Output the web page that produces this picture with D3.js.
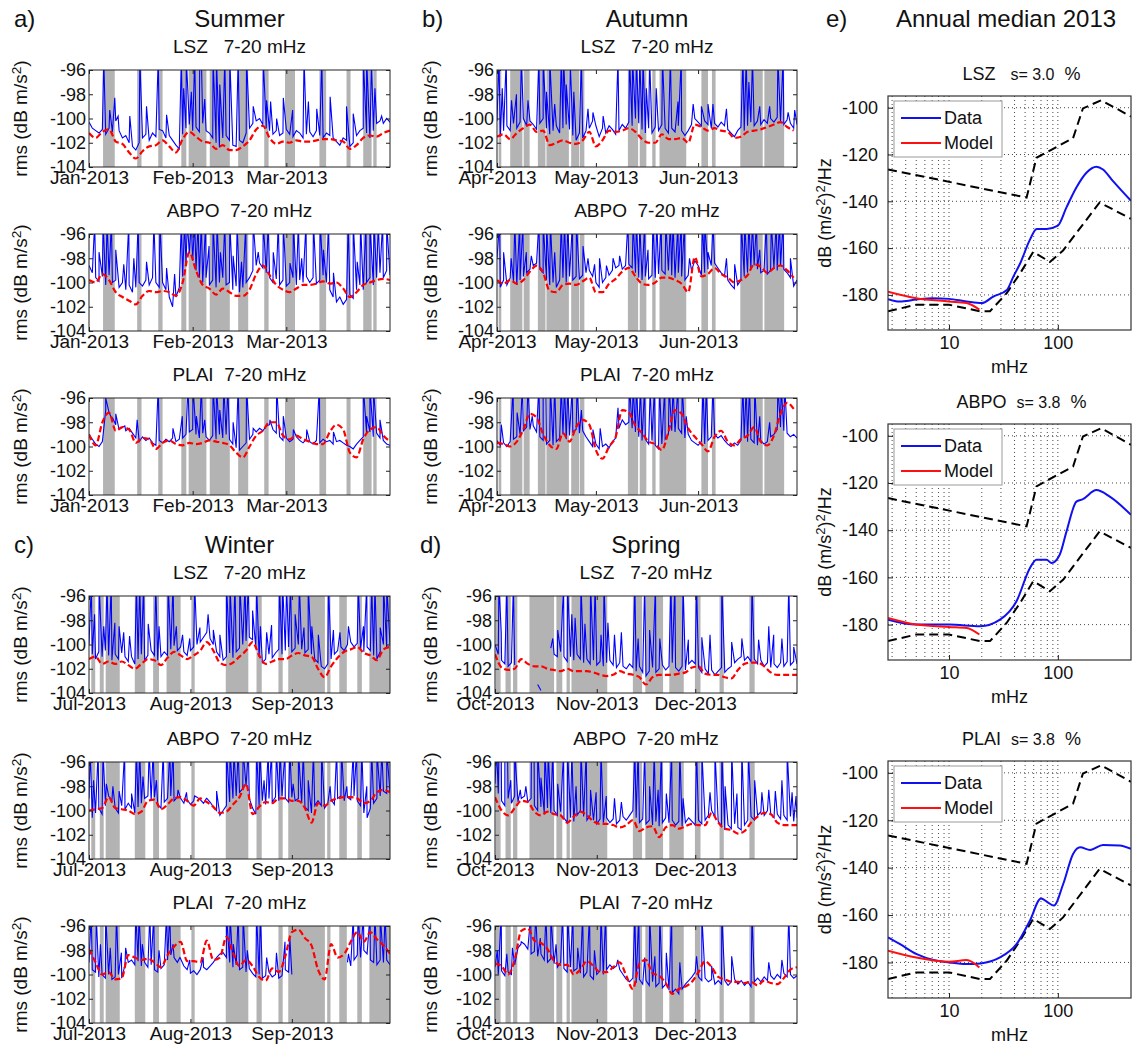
<!DOCTYPE html>
<html>
<head>
<meta charset="utf-8">
<script src="https://cdn.jsdelivr.net/npm/d3@7"></script>
<style>
  body { margin: 0; background: #fff; }
  svg { font-family: "Liberation Sans", Arial, Helvetica, sans-serif; }
</style>
</head>
<body>
<svg id="chart" width="1133" height="1053"></svg>
<script>
// ---------- data: seasonal 7-20 mHz rms (dB m/s^2) ----------
const seasonNames = ["Summer", "Autumn", "Winter", "Spring"];
const seasonLetters = ["a)", "b)", "c)", "d)"];
const seasonStart = ["2013-01-01", "2013-04-01", "2013-07-01", "2013-10-01"];
const seasonEnd = ["2013-04-01", "2013-07-01", "2013-10-01", "2014-01-01"];
const stationTitles = ["LSZ   7-20 mHz", "ABPO  7-20 mHz", "PLAI  7-20 mHz"];
const rmsTicks = [-104, -102, -100, -98, -96];

// grey bands (day offsets from season start)
const bandsSummer = [[4.2,7.7],[14.4,15.7],[20.7,22.0],[27.6,29.1],[29.8,35.1],[36.1,42.1],[44.6,47.6],[52.4,53.7],[58.6,61.6],[68.9,70.9],[77.0,78.2],[82.0,84.5],[85.0,86.0]];
const bandsAutumn = [[0.5,1.3],[4.0,7.7],[8.1,9.9],[12.4,14.7],[15.0,21.8],[22.5,24.9],[25.1,26.5],[39.7,42.8],[43.3,45.3],[47.1,48.1],[49.3,57.4],[62.0,64.0],[65.2,66.3],[73.8,80.6],[81.1,87.1]];
const bandsWinter = [[0.7,1.9],[3.3,4.5],[5.1,9.4],[14.0,17.2],[19.6,21.4],[23.7,28.0],[31.3,32.3],[41.8,48.7],[51.2,52.8],[57.9,59.2],[60.9,72.1],[72.8,73.8],[76.5,78.8],[82.0,83.4],[85.7,92.0]];
const bandsSpring = [[0.2,1.7],[3.2,4.8],[5.5,6.8],[10.5,18.0],[18.7,20.5],[21.8,22.8],[23.3,34.2],[42.0,44.8],[45.8,51.2],[53.1,57.5],[60.9,62.6],[68.4,69.7],[77.5,79.1]];

// blue: daily data, spikes: [day, peak], red: model every 2 days
const blueSumLSZ = [
  -100.3,-100.8,-101.0,-101.2,-100.9,-101.3,-100.8,-101.1,-100.2,-101.0,
  -101.6,-101.4,-102.0,-102.3,-102.6,-102.0,-101.6,-101.3,-101.8,-101.2,
  -101.5,-100.9,-101.0,-101.6,-101.4,-101.8,-102.2,-102.5,-101.3,-100.8,
  -100.5,-101.0,-100.7,-101.1,-100.4,-101.0,-101.2,-101.6,-102.0,-102.4,
  -101.6,-101.4,-101.8,-102.2,-102.3,-101.8,-102.0,-101.2,-100.8,-100.4,
  -100.2,-100.0,-100.5,-100.8,-101.0,-101.3,-101.0,-101.4,-101.2,-100.9,
  -101.3,-101.5,-101.0,-101.2,-101.6,-101.3,-101.1,-101.5,-101.0,-101.4,
  -101.6,-101.2,-101.4,-101.6,-101.9,-102.2,-101.6,-101.8,-102.3,-102.0,
  -101.4,-101.0,-100.8,-101.2,-101.6,-101.0,-100.4,-100.2,-100.4,-100.0,-100.3];
const spikesSumLSZ = [[4.4,-95],[6.2,-99.3],[7.7,-98.3],[8.7,-99.8],[12.2,-99.8],[15.2,-95],[17.2,-99],[20.7,-95],[23.2,-99.7],[27.6,-95],[28.3,-97.5],[29.1,-95],[30.6,-97.8],[31.6,-95],[33.1,-95],[33.6,-95],[34.6,-98.4],[37.1,-95],[38.1,-95],[39.1,-97.2],[40.6,-95],[42.1,-95],[44.6,-95],[47.1,-95],[49.1,-99],[52.1,-95],[53.1,-98.5],[54.3,-98.6],[56.1,-100],[58.1,-98.3],[60.9,-99.3],[64.3,-95],[65.6,-98.6],[68.1,-99.2],[69.6,-95],[72.1,-98.2],[77.0,-99],[79.0,-99.6],[82.0,-95],[83.0,-95],[84.5,-95],[85.5,-97.5],[87.5,-99.8]];
const redSumLSZ = [
  -101.2,-101.6,-101.1,-100.9,-101.9,-102.1,-102.8,-103.3,-102.7,-102.3,
  -102.2,-101.8,-102.3,-102.8,-101.7,-101.1,-101.5,-101.9,-102.0,-102.5,
  -102.2,-102.6,-102.6,-102.3,-101.8,-100.9,-100.6,-101.6,-102.1,-101.9,
  -102.0,-101.8,-101.9,-101.9,-101.8,-101.7,-101.7,-101.8,-101.9,-102.5,
  -102.2,-101.6,-101.4,-101.5,-101.2,-101.0];

const blueSumABPO = [
  -98.6,-99.2,-99.6,-99.9,-99.5,-100.2,-99.4,-100.0,-99.8,-100.4,
  -100.0,-100.6,-100.2,-100.8,-100.4,-100.0,-100.3,-99.8,-100.2,-99.6,
  -100.0,-100.4,-100.0,-100.6,-101.2,-102.0,-101.2,-100.4,-99.5,-98.6,
  -97.6,-98.2,-99.0,-99.6,-100.0,-99.6,-100.2,-99.8,-100.4,-100.0,
  -99.6,-100.2,-100.0,-100.6,-100.3,-100.8,-100.4,-100.0,-99.6,-99.0,
  -98.6,-98.4,-98.8,-99.2,-99.6,-100.0,-99.7,-100.2,-99.8,-100.3,
  -100.0,-99.6,-100.2,-99.8,-100.0,-99.5,-100.0,-99.6,-100.1,-99.8,
  -99.4,-100.0,-100.6,-101.2,-101.6,-101.2,-101.8,-101.4,-101.0,-101.3,
  -100.6,-100.2,-100.6,-100.0,-99.6,-100.2,-99.6,-99.2,-99.6,-99.0,-99.4];
const spikesSumABPO = [[1.7,-95],[3.0,-97.5],[4.2,-95],[5.4,-95],[6.7,-95],[8.0,-97.3],[10.4,-98.5],[11.9,-95],[13.4,-98],[14.7,-95],[17.2,-98.3],[19.4,-95],[21.2,-95],[23.2,-98.8],[25.6,-99.3],[27.6,-95],[28.6,-95],[29.4,-95],[30.6,-95],[31.6,-95],[32.6,-95],[33.6,-95],[34.9,-95],[35.9,-97],[37.1,-95],[38.3,-95],[39.3,-97.5],[40.6,-95],[42.1,-95],[43.1,-97.8],[44.3,-95],[45.6,-98.3],[46.9,-95],[49.1,-95],[50.6,-97.5],[52.1,-95],[53.6,-95],[55.1,-97.5],[56.6,-95],[58.1,-95],[60.1,-98.4],[61.1,-95],[62.6,-95],[63.6,-98],[64.9,-95],[67.1,-95],[69.1,-95],[70.1,-97.3],[71.6,-95],[73.1,-99.2],[77.5,-95],[79.0,-95],[80.2,-98.3],[81.2,-95],[82.8,-95],[84.0,-95],[85.2,-95],[86.5,-95],[87.8,-95],[89.0,-95]];
const redSumABPO = [
  -99.8,-100.0,-99.3,-99.8,-100.8,-101.2,-101.5,-101.8,-101.1,-100.7,
  -100.8,-100.7,-100.8,-101.1,-100.0,-97.5,-99.0,-100.2,-100.5,-101.0,
  -100.5,-100.8,-101.1,-101.1,-100.6,-99.3,-98.6,-99.4,-100.2,-100.6,
  -100.8,-100.5,-100.2,-100.2,-100.1,-99.9,-100.1,-100.0,-100.5,-101.2,
  -100.8,-100.2,-100.0,-99.8,-99.7,-99.8];

const blueSumPLAI = [
  -99.0,-99.4,-99.8,-100.0,-99.6,-97.0,-97.2,-97.8,-98.2,-98.6,
  -98.4,-98.7,-98.5,-98.9,-99.3,-99.6,-99.2,-99.5,-99.3,-99.7,
  -99.9,-99.5,-99.7,-99.4,-99.6,-99.3,-99.6,-99.4,-99.3,-99.0,
  -98.8,-98.6,-99.0,-99.3,-98.9,-99.2,-99.5,-99.1,-99.4,-99.0,
  -99.3,-99.0,-99.4,-99.8,-100.1,-100.3,-100.0,-99.7,-99.4,-99.0,
  -98.8,-98.5,-98.7,-98.3,-98.2,-98.6,-98.9,-99.2,-99.5,-99.3,
  -99.6,-99.4,-99.2,-99.5,-99.7,-99.4,-99.6,-99.8,-99.5,-99.7,
  -99.4,-99.6,-99.5,-99.8,-99.6,-99.5,-99.7,-99.9,-100.0,-100.2,
  -99.8,-99.5,-99.2,-98.9,-98.8,-99.2,-98.9,-99.3,-99.5,-99.8,-99.9];
const spikesSumPLAI = [[5.0,-96],[7.0,-97.6],[8.0,-97.3],[10.7,-98.3],[14.4,-97.8],[20.7,-95],[25.1,-98.5],[27.9,-97.5],[29.6,-95],[31.1,-95],[32.1,-97.5],[33.6,-95],[34.6,-97.8],[37.1,-95],[38.1,-95],[39.1,-97],[40.3,-95],[41.5,-95],[43.1,-98],[44.6,-95],[47.1,-95],[49.1,-98.5],[54.1,-97.8],[56.1,-95],[58.1,-97.5],[61.1,-98.6],[65.1,-98.6],[68.9,-95],[73.1,-98.8],[82.0,-95],[83.0,-97.5],[84.0,-95],[85.0,-95],[87.0,-97.8]];
const redSumPLAI = [
  -99.0,-99.9,-98.0,-97.2,-98.7,-98.4,-98.6,-99.7,-99.3,-99.4,
  -100.2,-99.7,-99.5,-99.8,-99.9,-99.7,-99.8,-99.7,-99.5,-99.6,
  -99.7,-99.9,-100.5,-100.9,-100.0,-99.1,-98.7,-98.0,-98.0,-99.1,
  -99.4,-99.1,-99.4,-99.6,-99.8,-99.8,-98.8,-98.2,-98.6,-100.5,
  -100.9,-99.4,-98.6,-98.4,-99.1,-99.6];

const blueAutLSZ = [
  -100.2,-101.5,-101.0,-100.6,-101.0,-100.4,-100.8,-100.3,-100.0,-100.6,
  -100.2,-100.5,-100.9,-100.4,-100.0,-100.8,-101.3,-101.0,-100.6,-101.2,
  -100.8,-100.5,-100.9,-101.4,-101.8,-101.2,-101.6,-101.0,-100.8,-100.2,
  -100.6,-101.5,-100.8,-101.2,-100.6,-100.9,-101.3,-101.0,-100.5,-100.8,
  -100.3,-100.6,-100.0,-100.4,-100.9,-101.2,-100.8,-101.2,-100.7,-101.0,
  -100.5,-100.8,-101.2,-100.8,-101.1,-100.6,-101.0,-101.4,-101.0,-100.5,
  -100.0,-100.3,-100.6,-100.2,-100.5,-100.8,-100.4,-100.7,-100.3,-100.6,
  -100.9,-101.2,-101.5,-101.0,-100.7,-101.0,-100.6,-100.3,-100.6,-100.2,
  -100.5,-100.1,-100.4,-100.0,-100.3,-99.9,-100.2,-100.5,-100.1,-100.4,
  -100.8,-100.5];
const spikesAutLSZ = [[0.6,-95],[1.6,-97.5],[2.8,-95],[4.4,-98.5],[5.9,-98],[7.4,-95],[9.4,-98.5],[12.7,-95],[14.0,-95],[15.0,-97.8],[16.0,-95],[17.5,-98.8],[19.5,-95],[20.2,-95],[21.0,-97.2],[22.2,-95],[23.3,-97.8],[25.6,-95],[27.6,-99.2],[29.1,-99.5],[32.2,-99.8],[36.7,-95],[40.2,-95],[41.1,-95],[42.3,-95],[43.3,-95],[44.3,-95],[45.3,-97.5],[46.3,-95],[48.3,-97.5],[50.2,-95],[52.6,-95],[54.9,-98.6],[55.9,-95],[59.5,-98.8],[62.0,-99],[64.0,-98.8],[65.5,-98.8],[69.6,-99.2],[74.6,-95],[75.6,-95],[76.4,-97],[77.5,-95],[79.7,-99],[82.7,-99],[85.2,-95],[86.8,-95],[88.3,-99.5],[90.3,-99.3]];
const redAutLSZ = [
  -101.5,-101.3,-101.7,-101.2,-100.8,-100.5,-101.1,-101.0,-102.2,-102.0,
  -101.8,-102.0,-102.1,-101.8,-101.1,-102.3,-101.8,-101.0,-101.1,-101.0,
  -100.8,-101.1,-101.7,-102.0,-102.0,-101.3,-101.7,-101.7,-101.6,-102.0,
  -100.5,-100.7,-101.0,-100.8,-101.0,-101.1,-101.6,-101.5,-101.1,-101.0,
  -100.9,-100.7,-100.5,-100.3,-100.7,-101.0];

const blueAutABPO = [
  -98.0,-100.4,-99.8,-100.2,-99.6,-99.9,-100.2,-99.8,-99.5,-99.2,
  -98.9,-98.6,-98.4,-98.9,-99.2,-99.8,-100.2,-100.0,-100.4,-99.8,
  -99.6,-100.0,-99.5,-99.8,-99.5,-99.7,-99.4,-99.2,-99.0,-99.5,
  -100.0,-100.4,-100.0,-99.6,-99.4,-99.0,-98.8,-98.6,-98.9,-98.6,
  -98.5,-98.8,-99.2,-99.6,-99.8,-99.5,-99.7,-99.4,-99.6,-99.3,
  -99.0,-99.3,-99.0,-99.4,-99.6,-99.2,-99.5,-99.8,-99.4,-99.0,
  -98.2,-98.6,-99.4,-99.2,-98.9,-98.6,-98.4,-98.8,-99.2,-99.5,
  -99.8,-100.2,-100.5,-100.2,-99.8,-99.5,-99.2,-98.8,-98.6,-98.9,
  -99.2,-99.0,-99.3,-99.0,-98.8,-99.0,-98.6,-98.9,-99.2,-99.6,
  -100.3,-99.8];
const spikesAutABPO = [[0.8,-95],[2.0,-97.5],[4.3,-98],[5.4,-95],[6.9,-95],[7.9,-95],[8.9,-97.5],[10.4,-97.8],[12.7,-95],[14.0,-95],[15.0,-95],[16.2,-95],[17.5,-97.5],[19.5,-95],[20.5,-95],[21.5,-95],[22.9,-95],[24.1,-95],[26.1,-97],[27.6,-98],[29.6,-98.5],[31.1,-98],[33.2,-98.6],[35.2,-98],[37.2,-97.8],[39.7,-95],[41.3,-95],[42.3,-95],[43.3,-95],[44.8,-95],[45.8,-97.3],[47.3,-95],[48.5,-95],[49.8,-95],[51.2,-95],[52.6,-95],[53.4,-95],[54.9,-95],[55.9,-95],[56.9,-95],[58.4,-98],[62.3,-95],[63.0,-95],[64.0,-97.5],[65.5,-95],[69.6,-98],[72.1,-98.5],[74.1,-95],[75.1,-95],[76.4,-95],[77.5,-95],[78.7,-95],[79.7,-97.3],[81.7,-95],[83.2,-95],[84.7,-95],[85.7,-95],[86.8,-95],[89.0,-98]];
const redAutABPO = [
  -99.8,-100.1,-99.8,-100.1,-99.8,-99.1,-98.6,-99.2,-100.7,-100.8,
  -100.2,-100.1,-100.2,-99.9,-99.6,-100.8,-100.8,-100.1,-99.7,-99.1,
  -98.8,-99.5,-100.1,-100.2,-100.0,-99.6,-99.6,-99.8,-100.1,-100.8,
  -97.9,-99.5,-99.3,-98.8,-99.3,-99.6,-100.0,-99.8,-99.4,-98.5,
  -98.7,-99.2,-98.8,-98.6,-99.0,-99.6];

const blueAutPLAI = [
  -99.5,-99.9,-99.7,-100.0,-99.6,-99.4,-99.2,-99.0,-98.7,-98.4,
  -98.6,-98.3,-98.8,-99.2,-99.5,-99.8,-99.5,-99.9,-99.6,-99.3,
  -99.0,-99.4,-99.1,-98.8,-98.6,-98.9,-98.7,-99.2,-99.6,-100.0,
  -99.8,-100.2,-100.0,-99.8,-100.1,-99.6,-99.3,-98.5,-97.8,-98.2,
  -98.0,-98.5,-98.8,-99.2,-99.5,-99.4,-99.8,-99.5,-99.9,-100.2,
  -99.8,-99.4,-99.0,-98.7,-98.8,-98.5,-98.9,-99.3,-99.0,-99.5,
  -99.7,-99.9,-99.6,-99.8,-99.5,-99.2,-99.0,-99.3,-99.1,-99.5,
  -99.8,-100.0,-99.7,-99.9,-99.5,-99.3,-99.6,-99.4,-99.7,-99.9,
  -99.5,-99.8,-99.6,-99.2,-99.0,-98.6,-98.4,-98.7,-98.9,-99.2,
  -99.0,-99.3];
const spikesAutPLAI = [[1.3,-98.2],[4.9,-95],[6.1,-97.2],[7.7,-95],[9.4,-95],[10.7,-97.5],[12.7,-95],[14.0,-95],[14.8,-95],[16.2,-95],[17.5,-95],[19.5,-95],[20.5,-95],[21.5,-95],[22.8,-95],[24.3,-95],[25.6,-97],[29.1,-98.6],[31.3,-98.5],[36.7,-96.8],[40.2,-95],[41.3,-95],[42.3,-95],[43.5,-95],[44.8,-95],[46.5,-95],[47.8,-95],[49.3,-95],[50.9,-95],[52.2,-95],[53.4,-95],[54.9,-95],[56.2,-95],[57.4,-97.5],[62.5,-95],[63.5,-95],[65.5,-95],[74.6,-95],[75.6,-95],[76.6,-95],[78.2,-95],[79.7,-97.5],[82.7,-98],[85.2,-95],[86.2,-95],[87.3,-95]];
const redAutPLAI = [
  -99.7,-99.8,-100.0,-99.6,-98.6,-97.3,-97.6,-99.0,-99.9,-100.2,
  -98.9,-99.6,-98.4,-97.8,-98.2,-100.3,-101.0,-100.0,-99.2,-97.0,
  -97.2,-98.3,-98.9,-99.6,-99.8,-100.3,-98.8,-97.0,-97.3,-98.5,
  -99.2,-99.8,-100.4,-99.2,-98.7,-99.6,-99.9,-99.4,-99.1,-98.4,
  -99.6,-99.9,-99.1,-97.3,-96.4,-96.9];

const blueWinLSZ = [
  -100.0,-100.8,-101.2,-100.6,-101.0,-100.5,-100.9,-101.3,-100.8,-101.2,
  -100.7,-101.0,-101.4,-101.0,-101.6,-101.2,-100.8,-101.3,-100.9,-100.5,
  -100.9,-101.3,-101.0,-100.6,-100.9,-100.4,-100.1,-100.5,-100.2,-100.6,
  -100.9,-100.5,-100.2,-100.0,-99.8,-99.4,-99.0,-99.5,-100.0,-100.6,
  -101.0,-101.3,-101.0,-100.7,-101.1,-100.6,-100.3,-100.0,-99.7,-99.4,
  -99.6,-100.3,-101.0,-101.5,-101.2,-100.8,-101.1,-100.7,-100.4,-100.8,
  -100.5,-100.2,-100.6,-100.3,-100.0,-100.4,-100.7,-100.4,-100.8,-101.2,
  -101.5,-101.8,-102.0,-101.6,-101.2,-100.8,-100.5,-100.2,-100.5,-100.0,
  -99.8,-100.2,-99.9,-100.3,-100.6,-100.2,-100.5,-100.9,-101.2,-100.6,
  -100.0,-100.3,-100.0];
const spikesWinLSZ = [[0.7,-95],[1.7,-97.5],[3.1,-95],[4.5,-98.5],[5.5,-95],[6.8,-95],[7.9,-98.2],[9.2,-98.5],[10.6,-99],[12.4,-99.3],[14.5,-95],[15.5,-95],[16.7,-95],[18.1,-98.3],[20.4,-95],[21.4,-98.5],[24.2,-95],[25.7,-95],[26.7,-98.5],[28.6,-99.2],[30.8,-99.5],[32.3,-95],[33.9,-98.6],[36.4,-97.5],[38.0,-98.8],[40.0,-99.2],[42.0,-95],[43.1,-95],[44.6,-95],[46.1,-95],[47.7,-95],[48.7,-95],[50.0,-97.2],[51.2,-95],[52.4,-98.5],[54.3,-99],[55.8,-98.4],[58.2,-95],[59.2,-95],[60.4,-95],[61.6,-95],[63.0,-97.5],[64.3,-95],[65.7,-98.6],[67.0,-95],[68.1,-98.5],[70.1,-99.2],[73.2,-95],[74.7,-98.8],[76.7,-99],[79.3,-98.5],[82.3,-95],[83.9,-98.5],[84.9,-95],[86.4,-95],[87.4,-95],[89.0,-98.6],[90.0,-95],[91.0,-95]];
const redWinLSZ = [
  -101.2,-101.0,-101.6,-101.4,-101.6,-101.4,-101.7,-102.0,-101.6,-101.2,
  -101.3,-101.7,-101.1,-100.6,-100.9,-101.2,-100.9,-100.5,-99.8,-100.5,
  -101.5,-101.7,-101.5,-101.0,-100.5,-99.8,-100.9,-101.6,-101.4,-101.2,
  -101.2,-100.9,-100.7,-100.9,-101.0,-102.0,-102.7,-101.8,-101.1,-100.6,
  -100.4,-100.2,-100.7,-100.9,-101.3,-100.4,-100.2];

const blueWinABPO = [
  -99.0,-100.6,-100.2,-99.8,-100.3,-99.6,-98.8,-99.2,-99.8,-100.2,
  -99.6,-99.9,-99.4,-99.8,-100.2,-99.7,-99.4,-99.0,-98.8,-99.2,
  -98.9,-99.5,-99.8,-99.3,-99.0,-98.8,-99.2,-98.9,-99.0,-99.4,
  -99.1,-99.5,-99.2,-98.9,-99.1,-99.4,-99.0,-99.3,-99.7,-100.0,
  -100.4,-100.0,-99.6,-99.3,-99.0,-98.8,-98.5,-98.2,-98.0,-99.0,
  -99.8,-100.3,-99.6,-99.2,-99.5,-99.0,-99.3,-98.9,-99.2,-98.8,
  -99.0,-99.3,-98.9,-99.2,-99.0,-99.4,-99.7,-100.0,-100.2,-99.6,
  -99.2,-99.6,-99.8,-99.4,-99.1,-99.5,-99.0,-98.8,-99.2,-98.9,
  -99.1,-98.8,-99.2,-99.6,-100.2,-100.6,-99.8,-99.4,-99.0,-98.8,
  -98.4,-98.6,-98.5];
const spikesWinABPO = [[0.4,-95],[1.4,-97.5],[2.8,-95],[4.3,-95],[5.3,-97.8],[7.3,-98],[9.2,-98.4],[10.9,-95],[13.0,-98.6],[14.5,-95],[15.5,-95],[16.5,-97.2],[18.4,-95],[19.6,-95],[20.6,-97.5],[22.7,-95],[24.7,-95],[25.7,-95],[27.2,-98.3],[29.8,-98.5],[32.3,-98.8],[35.9,-99],[39.0,-98.4],[42.0,-95],[43.1,-95],[44.3,-95],[45.6,-95],[47.1,-95],[48.7,-95],[51.2,-95],[52.2,-95],[53.5,-97.5],[54.8,-95],[55.8,-95],[57.3,-95],[58.4,-95],[59.9,-95],[61.4,-95],[62.4,-97.8],[64.0,-95],[65.5,-95],[67.0,-97.5],[68.6,-95],[71.1,-95],[73.7,-98],[75.7,-95],[77.2,-95],[78.8,-98],[80.8,-95],[81.8,-95],[83.4,-95],[84.9,-98],[86.4,-95],[88.0,-95],[89.5,-95],[91.0,-95]];
const redWinABPO = [
  -100.0,-99.9,-99.8,-98.9,-99.8,-99.9,-100.0,-100.3,-100.1,-99.2,
  -99.1,-99.9,-99.5,-99.0,-98.9,-99.2,-99.6,-99.0,-99.3,-99.7,
  -100.2,-100.1,-99.5,-98.9,-97.8,-100.3,-99.7,-99.3,-99.4,-99.0,
  -99.0,-99.2,-99.2,-99.8,-101.0,-99.4,-99.6,-99.2,-99.0,-98.9,
  -98.9,-99.0,-99.4,-99.2,-98.5,-98.3,-98.5];

const blueWinPLAI = [
  -99.0,-99.6,-99.8,-100.2,-100.0,-100.3,-100.0,-100.4,-100.2,-100.0,
  -100.3,-99.2,-99.0,-98.8,-99.2,-98.9,-99.3,-99.0,-99.4,-99.2,
  -99.6,-99.8,-99.5,-99.2,-98.8,-98.4,-98.6,-99.0,-98.7,-99.3,
  -99.6,-99.9,-99.7,-100.0,-99.6,-99.4,-99.6,-99.3,-99.0,-98.6,
  -98.3,-98.2,-98.6,-99.0,-99.4,-99.2,-99.6,-99.4,-99.8,-99.5,
  -99.9,-100.2,-100.0,-100.3,-100.1,-99.8,-100.2,-100.0,-100.3,-100.1,
  -99.6,-99.8,-100.0,null,null,null,null,null,null,null,
  null,null,null,null,null,null,null,null,null,-99.0,
  -99.3,-98.8,-98.4,-98.6,-98.0,-98.3,-98.8,-99.0,-99.2,-98.8,
  -99.0,-98.8,-99.2];
const spikesWinPLAI = [[0.7,-95],[2.2,-95],[3.5,-97.5],[5.1,-95],[6.5,-97.8],[8.4,-95],[9.9,-98.2],[11.2,-97.8],[14.3,-95],[15.3,-95],[16.3,-97.5],[18.6,-95],[19.8,-95],[21.4,-98],[23.7,-95],[24.7,-95],[25.7,-97.5],[27.8,-98.6],[30.8,-98.8],[34.9,-98.6],[39.0,-98.6],[42.0,-95],[43.1,-95],[44.1,-97.5],[45.6,-95],[47.1,-95],[48.4,-98],[51.2,-95],[52.4,-95],[54.3,-98.6],[57.3,-98.2],[59.9,-97.3],[61.4,-97],[79.3,-98.3],[80.8,-95],[82.3,-95],[83.9,-95],[85.9,-95],[87.4,-95],[89.0,-95],[90.5,-95]];
const redWinPLAI = [
  -97.9,-99.0,-100.0,-99.8,-100.4,-100.3,-98.4,-98.6,-98.8,-98.7,
  -99.0,-99.4,-98.4,-97.7,-97.3,-98.9,-98.9,-99.0,-97.2,-98.8,
  -98.6,-96.9,-98.2,-99.3,-98.8,-99.3,-100.2,-100.5,-99.5,-99.8,
  -98.5,-96.5,-96.3,-97.0,-97.6,-99.6,-100.4,-97.5,-98.6,-98.3,
  -97.3,-96.5,-97.3,-96.5,-97.1,-97.6,-98.3];

const blueSprLSZ = [
  -100.0,-100.8,-101.3,-101.6,-101.8,-101.5,-101.7,null,null,null,
  null,null,null,-103.3,-103.8,null,null,-100.3,-100.8,-101.0,
  -100.6,-101.0,-101.4,-101.0,-101.3,-100.8,-101.2,-101.5,-101.2,-101.6,
  -101.3,-101.7,-101.4,-101.8,-101.5,-101.3,-101.7,-101.9,-101.5,-101.8,
  -102.0,-101.6,-101.9,-102.2,-101.8,-102.3,-102.6,-102.2,-101.9,-102.3,
  -102.0,-101.7,-102.1,-101.8,-101.5,-101.9,-102.2,-101.8,-102.1,-101.6,
  -101.3,-101.6,-101.9,-102.3,-102.0,-102.4,-102.1,-102.5,-102.2,-101.9,
  -102.3,-102.0,-101.8,-101.5,-101.2,-101.0,-101.3,-101.0,-101.4,-101.2,
  -101.6,-101.3,-101.8,-101.5,-101.9,-101.6,-101.9,-101.5,-101.8,-101.4,
  -101.7,-101.4,-101.6];
const spikesSprLSZ = [[1.2,-95],[1.9,-99],[3.6,-95],[5.6,-95],[6.3,-95],[17.6,-99.5],[19.1,-98.8],[20.9,-95],[22.1,-95],[23.4,-97.5],[24.4,-97.8],[26.2,-95],[27.4,-98.3],[29.1,-95],[30.5,-95],[32.3,-99.2],[33.2,-95],[34.4,-98.2],[36.4,-99.2],[38.5,-99],[42.6,-95],[43.6,-99.5],[45.6,-95],[47.1,-98.8],[48.9,-95],[50.2,-99.5],[53.6,-95],[54.8,-95],[57.3,-95],[58.9,-99.6],[61.4,-95],[63.0,-99.4],[65.5,-99.2],[69.1,-95],[72.1,-99.8],[75.2,-99.5],[78.3,-95],[80.3,-99.6],[83.4,-98.5],[84.9,-99.2],[87.4,-99.5],[89.5,-95],[91.0,-100.2]];
const redSprLSZ = [
  -100.8,-101.9,-102.1,-102.0,-101.2,-101.6,-101.8,-101.8,-102.0,-102.1,
  -102.2,-102.0,-102.2,-102.2,-102.2,-102.3,-102.5,-102.6,-102.5,-102.2,
  -102.4,-102.5,-102.7,-103.3,-102.7,-102.5,-102.5,-102.5,-102.4,-102.3,
  -101.9,-101.8,-102.4,-102.5,-102.5,-102.7,-102.8,-102.1,-101.6,-101.5,
  -101.5,-101.8,-102.3,-102.5,-102.5,-102.5,-102.5];

const blueSprABPO = [
  -97.8,-98.6,-99.2,-99.6,-99.0,-99.4,-98.8,-99.3,-99.0,-98.8,
  -99.3,-99.0,-99.6,-100.0,-99.7,-100.2,-99.8,-100.2,-100.0,-100.4,
  -100.1,-100.6,-101.0,-100.6,-100.9,-100.4,-100.0,-100.5,-100.8,-100.4,
  -100.8,-101.1,-100.7,-101.0,-100.6,-101.0,-100.7,-101.1,-100.8,-100.5,
  -100.8,-100.4,-100.0,-100.6,-101.0,-100.7,-101.1,-100.8,-101.2,-100.9,
  -101.3,-101.0,-100.6,-101.0,-100.8,-101.2,-100.9,-101.3,-101.0,-100.6,
  -100.9,-101.2,-100.8,-101.1,-100.8,-100.4,-100.0,-100.5,-100.9,-101.3,
  -101.6,-101.2,-101.5,-101.1,-101.4,-101.6,-101.2,-100.8,-100.5,-100.8,
  -100.4,-100.1,-100.4,-100.0,-100.3,-100.6,-100.3,-100.7,-100.4,-100.8,
  -100.5,-100.9,-100.6];
const spikesSprABPO = [[0.5,-95],[1.2,-95],[1.9,-95],[3.0,-95],[3.8,-95],[4.8,-97.5],[6.0,-95],[7.7,-98.3],[9.4,-98],[11.1,-95],[11.9,-95],[13.0,-95],[14.0,-97.3],[15.2,-95],[16.2,-95],[17.6,-95],[19.1,-97.8],[20.9,-95],[22.1,-95],[23.4,-95],[24.7,-98],[26.2,-95],[27.8,-95],[29.1,-98.3],[30.8,-98.5],[32.3,-95],[33.9,-98.8],[36.4,-99],[38.5,-99.3],[42.6,-95],[43.6,-95],[45.6,-95],[47.1,-98],[48.5,-95],[49.7,-98.3],[50.7,-95],[52.2,-98.6],[53.8,-95],[56.3,-95],[57.3,-99],[61.4,-95],[63.0,-95],[65.5,-98.5],[67.0,-95],[69.1,-95],[70.1,-98],[72.1,-95],[73.7,-98.6],[75.2,-95],[77.2,-95],[79.1,-97.5],[81.3,-98.5],[83.4,-98.3],[85.4,-98.4],[87.4,-97.5],[89.0,-95],[90.5,-98.5],[91.7,-98.8]];
const redSprABPO = [
  -98.9,-100.0,-100.4,-99.8,-99.2,-99.3,-100.1,-100.4,-100.1,-100.3,
  -100.4,-101.0,-100.5,-100.1,-100.4,-100.9,-101.1,-101.1,-101.2,-101.4,
  -101.2,-100.8,-101.7,-101.4,-101.3,-102.2,-101.4,-101.2,-101.5,-101.3,
  -101.1,-101.2,-101.2,-100.2,-101.0,-101.5,-101.6,-101.9,-101.7,-101.0,
  -100.5,-100.2,-100.3,-101.0,-101.2,-101.2,-101.2];

const blueSprPLAI = [
  -99.4,-100.0,-99.7,-100.1,-99.8,-100.0,-99.2,-97.8,-97.3,-97.5,
  -97.9,-98.3,-98.1,-98.5,-98.3,-98.8,-99.0,-98.7,-99.1,-99.4,
  -99.0,-99.5,-99.8,-99.4,-99.7,-99.5,-99.9,-100.2,-99.8,-100.1,
  -100.4,-100.0,-99.7,-100.0,-99.6,-99.2,-99.5,-99.3,-99.6,-100.0,
  -100.4,-100.6,-100.3,-100.7,-100.4,-100.8,-100.5,-100.9,-100.6,-101.0,
  -100.7,-101.1,-100.8,-101.3,-101.5,-101.2,-101.6,-101.2,-100.8,-100.5,
  -100.2,-99.8,-100.2,-100.5,-100.3,-100.6,-100.4,-100.8,-100.5,-100.8,
  -100.5,-100.9,-100.6,-100.4,-100.8,-100.5,-100.9,-100.6,-101.0,-100.6,
  -100.3,-100.6,-100.2,-100.5,-100.1,-100.4,-100.0,-100.3,-99.9,-100.2,
  -100.0,-100.3,-100.1];
const spikesSprPLAI = [[0.7,-98],[1.9,-95],[3.6,-98.3],[5.3,-97.8],[7.9,-97.5],[10.9,-95],[12.4,-95],[13.8,-97],[15.5,-95],[17.0,-95],[18.6,-97.5],[20.6,-95],[22.1,-95],[23.7,-95],[25.2,-97.8],[26.7,-95],[28.8,-95],[30.3,-98],[32.3,-95],[33.7,-95],[37.4,-98.8],[42.6,-95],[43.8,-95],[45.6,-98.6],[47.1,-95],[48.7,-98.5],[50.2,-95],[52.2,-98.2],[53.8,-95],[56.3,-99],[61.4,-98.5],[63.0,-95],[66.0,-99.3],[69.1,-95],[72.1,-98.5],[78.3,-95],[83.4,-99],[87.4,-98.8],[89.5,-95]];
const redSprPLAI = [
  -99.1,-99.3,-100.0,-98.8,-96.4,-96.2,-97.2,-97.4,-97.9,-98.9,
  -99.2,-99.2,-100.0,-99.6,-98.9,-99.3,-99.8,-99.8,-99.4,-99.0,
  -100.1,-101.2,-99.1,-98.8,-99.9,-100.1,-100.7,-101.6,-101.2,-101.0,
  -100.6,-99.8,-98.9,-99.4,-100.2,-100.4,-100.6,-100.6,-100.7,-100.6,
  -100.9,-100.5,-100.7,-100.8,-100.3,-99.6,-99.4];

// ---------- data: annual median spectra ----------
const specTicksY = [-180, -160, -140, -120, -100];
const specTicksX = [10, 100];
const specGridX = [3,4,5,6,7,8,9,10,20,30,40,50,60,70,80,90,100];
const nhnmFreq = [2.75, 51.6, 63.6, 138, 170, 250, 470];
const nhnmDb = [-126.4, -138.4, -121.4, -113, -100.3, -96.8, -103.8];
const nlnmFreq = [2.75, 5, 10, 19.3, 23.8, 33.8, 45, 59.4, 84.4, 111.7, 242, 470];
const nlnmDb = [-187, -184.2, -184.2, -187, -187, -179.3, -170.8, -161.6, -165.9, -161, -140.5, -147.5];

const lszFreq = [2.75, 3.5, 5, 7, 10, 14.5, 20, 25.5, 34, 39, 45, 55, 64, 79, 100, 120, 148, 183, 226, 260, 320, 470];
const lszData = [-181.8, -182.8, -182, -181.4, -181.7, -182.8, -183.5, -180.7, -177.9, -172.2, -166.6, -156.7, -151.8, -151.8, -150.4, -142.6, -134.1, -127.8, -125.2, -126.4, -131.3, -139.8];
const abpoFreq = [2.75, 5, 10, 19.3, 29.4, 41.7, 55.3, 63.6, 78.8, 87.5, 104, 120, 148, 170, 226, 300, 470];
const abpoData = [-177.9, -180, -180, -180.7, -177.9, -170.1, -156.1, -152.5, -152.5, -153.9, -150.4, -140.6, -127.9, -126.8, -123, -125.8, -133.5];
const plaiFreq = [2.75, 3.55, 5.05, 7.2, 10, 14.5, 19.5, 29.4, 41.7, 55.3, 70, 80, 92, 112, 138, 160, 198, 260, 370, 470];
const plaiData = [-169.4, -172.3, -176.5, -179, -180, -180.7, -180.4, -177.9, -172.3, -162.4, -153, -154.5, -156, -146.9, -134.2, -131.4, -132.5, -130.4, -130.7, -132.1];
const modelFreq = [2.75, 5, 10, 14.5, 19];
const lszModel = [-178.6, -181.4, -182.8, -183.5, -186.3];
const abpoModel = [-177.2, -180, -181, -181.4, -184.2];
const plaiModel = [-175, -177.9, -179.7, -179, -182.1];

// ---------- drawing ----------
const svg = d3.select("#chart");
const DAY = 86400000;

function superText(sel, parts) {
  // parts: [text, isSuper]
  parts.forEach(([t, sup], i) => {
    const prev = i > 0 && parts[i - 1][1];
    const ts = sel.append("tspan").text(t);
    if (sup) ts.attr("dy", "-0.45em").attr("font-size", "0.72em");
    else if (prev) ts.attr("dy", "0.32em");
  });
}

class SeasonPanel {
  constructor(cfg) { this.cfg = cfg; }

  draw() {
    const c = this.cfg;
    const g = svg.append("g").attr("transform", `translate(${c.x},${c.y})`);
    const t0 = new Date(c.start + "T00:00:00Z");
    const t1 = new Date(c.end + "T00:00:00Z");
    const x = d3.scaleUtc().domain([t0, t1]).range([0, c.w]);
    const y = d3.scaleLinear().domain([-104, -96]).range([c.h, 0]);
    const at = (d) => new Date(+t0 + d * DAY);

    const clipId = "clip-" + c.key;
    g.append("clipPath").attr("id", clipId)
      .append("rect").attr("width", c.w).attr("height", c.h);
    const plot = g.append("g").attr("clip-path", `url(#${clipId})`);

    plot.selectAll("rect.band").data(c.bands).join("rect")
      .attr("class", "band")
      .attr("x", (d) => x(at(d[0])))
      .attr("width", (d) => x(at(d[1])) - x(at(d[0])))
      .attr("y", 0).attr("height", c.h)
      .attr("fill", "#b3b3b3");

    // blue data with spikes merged in
    const pts = c.blue.map((v, i) => ({ d: i, v }));
    c.spikes.forEach(([d, v]) => {
      if (c.blue[Math.floor(d)] != null && c.blue[Math.ceil(d)] != null) pts.push({ d, v });
    });
    pts.sort((a, b) => a.d - b.d);
    const blueLine = d3.line().defined((p) => p.v != null)
      .x((p) => x(at(p.d))).y((p) => y(p.v));
    plot.append("path").attr("d", blueLine(pts))
      .attr("fill", "none").attr("stroke", "#0000ff").attr("stroke-width", 1.1);

    const red = c.red.map((v, i) => ({ d: i * 2, v }));
    const redLine = d3.line().curve(d3.curveMonotoneX)
      .x((p) => x(at(p.d))).y((p) => y(p.v));
    plot.append("path").attr("d", redLine(red))
      .attr("fill", "none").attr("stroke", "#ff0000").attr("stroke-width", 2.2)
      .attr("stroke-dasharray", "6,3");

    // axes
    const months = d3.utcMonth.range(t0, t1);
    g.append("g").attr("class", "xax").attr("transform", `translate(0,${c.h})`)
      .call(d3.axisBottom(x).tickValues(months).tickFormat(d3.utcFormat("%b-%Y"))
        .tickSizeInner(-4).tickSizeOuter(0).tickPadding(4));
    g.append("g").call(d3.axisTop(x).tickValues(months).tickFormat("")
      .tickSizeInner(-4).tickSizeOuter(0));
    g.append("g").attr("class", "yax")
      .call(d3.axisLeft(y).tickValues(rmsTicks).tickFormat((d) => String(d))
        .tickSizeInner(-4).tickSizeOuter(0).tickPadding(3));
    g.append("g").attr("transform", `translate(${c.w},0)`)
      .call(d3.axisRight(y).tickValues(rmsTicks).tickFormat("")
        .tickSizeInner(-4).tickSizeOuter(0));
    g.selectAll(".domain").remove();
    g.selectAll(".tick line").attr("stroke", "#222");
    g.selectAll(".tick text").attr("font-family", null).attr("fill", "#111");
    g.selectAll(".xax .tick text").attr("font-size", 19);
    g.selectAll(".yax .tick text").attr("font-size", 18);

    g.append("rect").attr("width", c.w).attr("height", c.h)
      .attr("fill", "none").attr("stroke", "#222").attr("stroke-width", 1);

    g.append("text").attr("x", c.w / 2).attr("y", -17)
      .attr("text-anchor", "middle").attr("font-size", 19).attr("fill", "#111")
      .style("white-space", "pre")
      .text(c.title);

    const lab = g.append("text")
      .attr("transform", `translate(${-c.labelOffset},${c.h / 2}) rotate(-90)`)
      .attr("text-anchor", "middle").attr("font-size", 19).attr("fill", "#111");
    superText(lab, [["rms (dB m/s", false], ["2", true], [")", false]]);
  }
}

class SpectrumPanel {
  constructor(cfg) { this.cfg = cfg; }

  draw() {
    const c = this.cfg;
    const g = svg.append("g").attr("transform", `translate(${c.x},${c.y})`);
    const x = d3.scaleLog().domain([2.75, 470]).range([0, c.w]);
    const y = d3.scaleLinear().domain([-195, -95]).range([c.h, 0]);

    // dotted grid
    g.append("g").selectAll("line").data(specGridX).join("line")
      .attr("x1", (d) => x(d)).attr("x2", (d) => x(d))
      .attr("y1", 0).attr("y2", c.h)
      .attr("stroke", "#333").attr("stroke-width", 0.9).attr("stroke-dasharray", "1,3");
    g.append("g").selectAll("line").data(specTicksY).join("line")
      .attr("x1", 0).attr("x2", c.w)
      .attr("y1", (d) => y(d)).attr("y2", (d) => y(d))
      .attr("stroke", "#333").attr("stroke-width", 0.9).attr("stroke-dasharray", "1,3");

    const clipId = "sclip-" + c.key;
    g.append("clipPath").attr("id", clipId)
      .append("rect").attr("width", c.w).attr("height", c.h);
    const plot = g.append("g").attr("clip-path", `url(#${clipId})`);

    const line = d3.line().curve(d3.curveMonotoneX)
      .x((p) => x(p[0])).y((p) => y(p[1]));
    const straight = d3.line().x((p) => x(p[0])).y((p) => y(p[1]));
    const zip = (a, b) => a.map((f, i) => [f, b[i]]);

    [zip(nhnmFreq, nhnmDb), zip(nlnmFreq, nlnmDb)].forEach((pts) => {
      plot.append("path").attr("d", straight(pts))
        .attr("fill", "none").attr("stroke", "#000").attr("stroke-width", 2)
        .attr("stroke-dasharray", "9,5");
    });
    plot.append("path").attr("d", line(zip(c.freq, c.data)))
      .attr("fill", "none").attr("stroke", "#1010f0").attr("stroke-width", 2);
    plot.append("path").attr("d", line(zip(modelFreq, c.model)))
      .attr("fill", "none").attr("stroke", "#ff1010").attr("stroke-width", 2);

    g.append("g").attr("transform", `translate(0,${c.h})`)
      .call(d3.axisBottom(x).tickValues(specTicksX).tickFormat(d3.format("d"))
        .tickSizeInner(-5).tickSizeOuter(0).tickPadding(6));
    g.append("g")
      .call(d3.axisLeft(y).tickValues(specTicksY).tickFormat((d) => String(d))
        .tickSizeInner(-5).tickSizeOuter(0).tickPadding(10));
    g.selectAll(".domain").remove();
    g.selectAll(".tick line").attr("stroke", "#222");
    g.selectAll(".tick text").attr("font-size", 18).attr("font-family", null).attr("fill", "#111");

    g.append("rect").attr("width", c.w).attr("height", c.h)
      .attr("fill", "none").attr("stroke", "#333").attr("stroke-width", 1.2);

    // legend
    const lg = g.append("g").attr("transform", "translate(6,5)");
    lg.append("rect").attr("width", 108).attr("height", 56)
      .attr("fill", "#fff").attr("stroke", "#999").attr("stroke-width", 1);
    [["Data", "#1010f0", 17], ["Model", "#ff1010", 42]].forEach(([t, col, yy]) => {
      lg.append("line").attr("x1", 7).attr("x2", 47).attr("y1", yy).attr("y2", yy)
        .attr("stroke", col).attr("stroke-width", 2);
      lg.append("text").attr("x", 50).attr("y", yy + 6)
        .attr("font-size", 18).attr("fill", "#111").text(t);
    });

    const title = g.append("text").attr("x", c.w / 2 + 12).attr("y", -16)
      .attr("text-anchor", "middle").attr("font-size", 18).attr("fill", "#111")
      .style("white-space", "pre");
    title.append("tspan").text(c.name + "  ");
    title.append("tspan").attr("font-size", 16).text("s= " + c.s);
    title.append("tspan").text("  %");

    g.append("text").attr("x", c.w / 2).attr("y", c.h + 43)
      .attr("text-anchor", "middle").attr("font-size", 18).attr("fill", "#111").text("mHz");

    const lab = g.append("text")
      .attr("transform", `translate(-57,${c.h / 2}) rotate(-90)`)
      .attr("text-anchor", "middle").attr("font-size", 18).attr("fill", "#111");
    superText(lab, [["dB (m/s", false], ["2", true], [")", false], ["2", true], ["/Hz", false]]);
  }
}

// ---------- layout ----------
const colX = [89, 497, 89, 495];
const colW = [301, 300, 301, 302];
const rowTops = [[70, 234, 398], [70, 234, 398], [596, 762, 926], [596, 762, 926]];
const labelOffset = [62, 60, 62, 58];
const seasonBands = [bandsSummer, bandsAutumn, bandsWinter, bandsSpring];
const seasonBlue = [
  [blueSumLSZ, blueSumABPO, blueSumPLAI],
  [blueAutLSZ, blueAutABPO, blueAutPLAI],
  [blueWinLSZ, blueWinABPO, blueWinPLAI],
  [blueSprLSZ, blueSprABPO, blueSprPLAI]];
const seasonSpikes = [
  [spikesSumLSZ, spikesSumABPO, spikesSumPLAI],
  [spikesAutLSZ, spikesAutABPO, spikesAutPLAI],
  [spikesWinLSZ, spikesWinABPO, spikesWinPLAI],
  [spikesSprLSZ, spikesSprABPO, spikesSprPLAI]];
const seasonRed = [
  [redSumLSZ, redSumABPO, redSumPLAI],
  [redAutLSZ, redAutABPO, redAutPLAI],
  [redWinLSZ, redWinABPO, redWinPLAI],
  [redSprLSZ, redSprABPO, redSprPLAI]];

seasonNames.forEach((name, s) => {
  stationTitles.forEach((title, k) => {
    new SeasonPanel({
      key: s + "-" + k,
      x: colX[s], y: rowTops[s][k], w: colW[s], h: 97,
      start: seasonStart[s], end: seasonEnd[s],
      title, labelOffset: labelOffset[s],
      bands: seasonBands[s],
      blue: seasonBlue[s][k], spikes: seasonSpikes[s][k], red: seasonRed[s][k],
    }).draw();
  });
  const cx = colX[s] + colW[s] / 2;
  const top = rowTops[s][0];
  svg.append("text").attr("x", cx).attr("y", top - 43)
    .attr("text-anchor", "middle").attr("font-size", 24).attr("fill", "#111").text(name);
  svg.append("text").attr("x", colX[s] - 75).attr("y", top - 43)
    .attr("font-size", 24).attr("fill", "#111").text(seasonLetters[s]);
});

svg.append("text").attr("x", 826).attr("y", 27).attr("font-size", 24).attr("fill", "#111").text("e)");
svg.append("text").attr("x", 1006).attr("y", 27).attr("text-anchor", "middle")
  .attr("font-size", 24).attr("fill", "#111").text("Annual median 2013");

const specPanels = [
  { key: "lsz", name: "LSZ ", s: "3.0", y: 96, h: 234, freq: lszFreq, data: lszData, model: lszModel },
  { key: "abpo", name: "ABPO", s: "3.8", y: 424, h: 236, freq: abpoFreq, data: abpoData, model: abpoModel },
  { key: "plai", name: "PLAI", s: "3.8", y: 761, h: 237, freq: plaiFreq, data: plaiData, model: plaiModel },
];
specPanels.forEach((p) => new SpectrumPanel({ ...p, x: 888, w: 243 }).draw());
</script>
</body>
</html>
